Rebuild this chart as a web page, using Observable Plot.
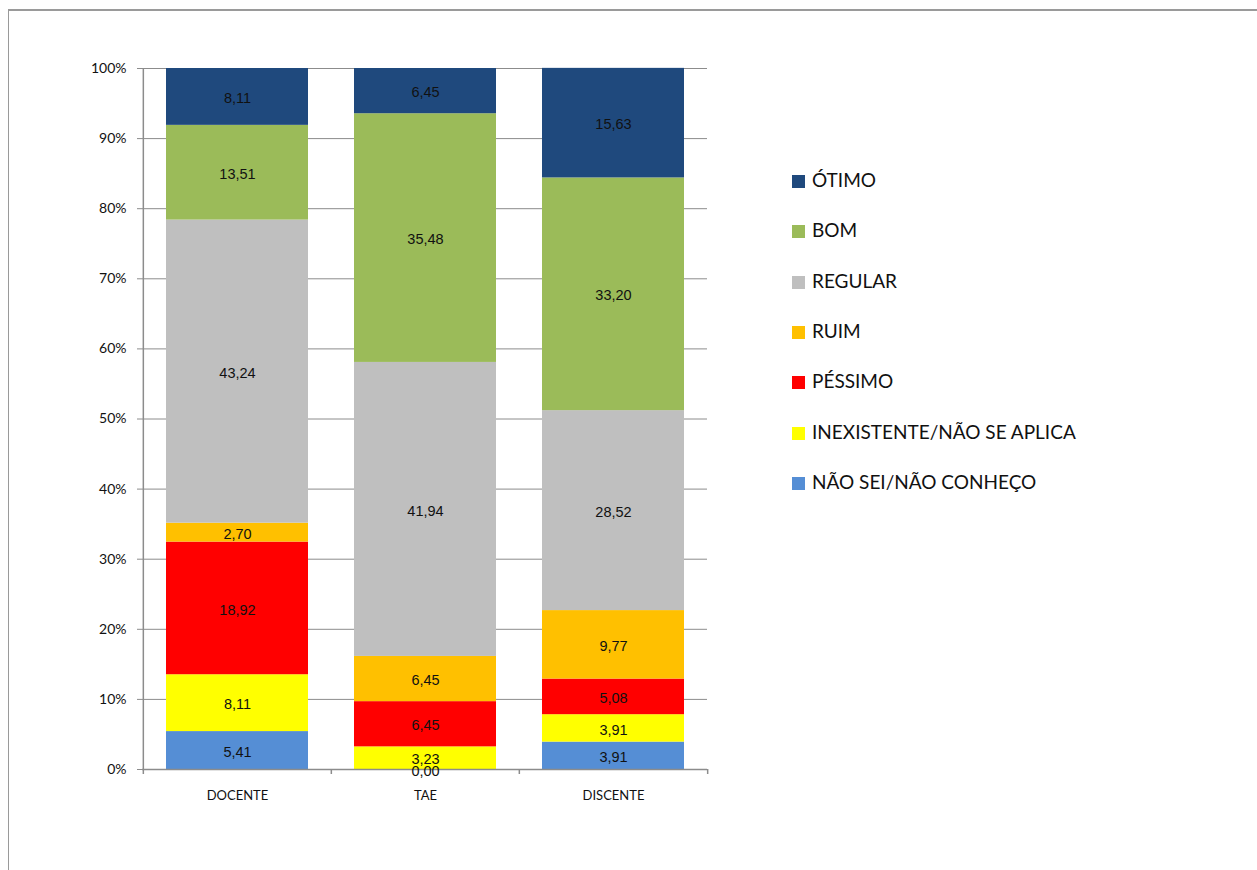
<!DOCTYPE html>
<html>
<head>
<meta charset="utf-8">
<script src="https://cdn.jsdelivr.net/npm/d3@7"></script>
<script src="https://cdn.jsdelivr.net/npm/@observablehq/plot@0.6"></script>
<style>
  html, body { margin: 0; padding: 0; background: #fff; }
  body { width: 1257px; height: 870px; position: relative; overflow: hidden; font-family: Lato, "Open Sans", sans-serif; }
  #frame { position: absolute; left: 8px; top: 9px; width: 1400px; height: 1000px; border-top: 2px solid #9a9a9a; border-left: 1px solid #9a9a9a; }
  #chart { position: absolute; left: 0; top: 0; }
  #legend { position: absolute; left: 792px; top: 170px; }
  .item { position: absolute; left: 0; white-space: nowrap; font-size: 19px; color: #111; line-height: 20px; }
  .sw { display: inline-block; width: 13px; height: 13px; margin-right: 7px; vertical-align: -1px; }
</style>
</head>
<body>
<div id="frame"></div>
<div id="chart"></div>
<div id="legend"></div>
<script>
const categories = ["DOCENTE", "TAE", "DISCENTE"];
const levels = ["NÃO SEI/NÃO CONHEÇO", "INEXISTENTE/NÃO SE APLICA", "PÉSSIMO", "RUIM", "REGULAR", "BOM", "ÓTIMO"];
const colors = ["#558ED5", "#FFFF00", "#FF0000", "#FFC000", "#BFBFBF", "#9BBB59", "#1F497D"];
const docente  = [5.41, 8.11, 18.92, 2.70, 43.24, 13.51, 8.11];
const tae      = [0.00, 3.23, 6.45, 6.45, 41.94, 35.48, 6.45];
const discente = [3.91, 3.91, 5.08, 9.77, 28.52, 33.20, 15.63];
const yTicks = [0, 10, 20, 30, 40, 50, 60, 70, 80, 90, 100];

const series = [docente, tae, discente];
const data = [];
categories.forEach((c, i) => levels.forEach((l, j) => data.push({cat: c, level: l, value: series[i][j]})));

const marginLeft = 142, marginRight = 550, marginTop = 68, marginBottom = 60;
const width = 1257, height = 829;
const step = (width - marginLeft - marginRight) / categories.length;

const fmt = v => v.toFixed(2).replace(".", ",");

const chart = Plot.plot({
  width, height, marginLeft, marginRight, marginTop, marginBottom,
  style: {fontFamily: "Lato, 'Open Sans', sans-serif", fontSize: "13px", color: "#111", background: "transparent"},
  x: {domain: categories, paddingInner: 0.246, paddingOuter: 0.123, label: null},
  y: {domain: [0, 100], label: null},
  color: {domain: levels, range: colors},
  marks: [
    Plot.gridY(yTicks, {stroke: "#8c8c8c", strokeOpacity: 1, strokeWidth: 1}),
    Plot.barY(data, Plot.stackY({x: "cat", y: "value", fill: "level", order: levels})),
    Plot.ruleY([0], {stroke: "#8c8c8c", strokeWidth: 1.5}),
    Plot.ruleX(categories, {x: d => d, dx: -step / 2, y1: 0, y2: 0, insetBottom: -5, stroke: "#8c8c8c", strokeWidth: 1.5}),
    Plot.ruleX([categories[categories.length - 1]], {x: d => d, dx: step / 2, y1: 0, y2: 0, insetBottom: -5, stroke: "#8c8c8c", strokeWidth: 1.5}),
    Plot.ruleX(categories.slice(0, 1), {x: d => d, dx: -step / 2, y1: 0, y2: 100, stroke: "#8c8c8c", strokeWidth: 1.5}),
    Plot.text(data, Plot.stackY({x: "cat", y: "value", z: "level", order: levels, text: d => fmt(d.value), fill: "#111", fontSize: 14.5, fontFamily: "'Liberation Sans', Arial, sans-serif", dy: 1.5})),
    Plot.axisY(yTicks, {tickFormat: d => d + "%", tickSize: 5, tickPadding: 11, stroke: "#8c8c8c", fontSize: 14}),
    Plot.axisX({tickSize: 0, tickPadding: 21, fontSize: 13})
  ]
});
document.getElementById("chart").appendChild(chart);

const legend = document.getElementById("legend");
levels.slice().reverse().forEach((l, i) => {
  const c = colors[levels.indexOf(l)];
  const div = document.createElement("div");
  div.className = "item";
  div.style.top = (i * 50.3) + "px";
  div.innerHTML = `<span class="sw" style="background:${c}"></span>${l}`;
  legend.appendChild(div);
});
</script>
</body>
</html>
